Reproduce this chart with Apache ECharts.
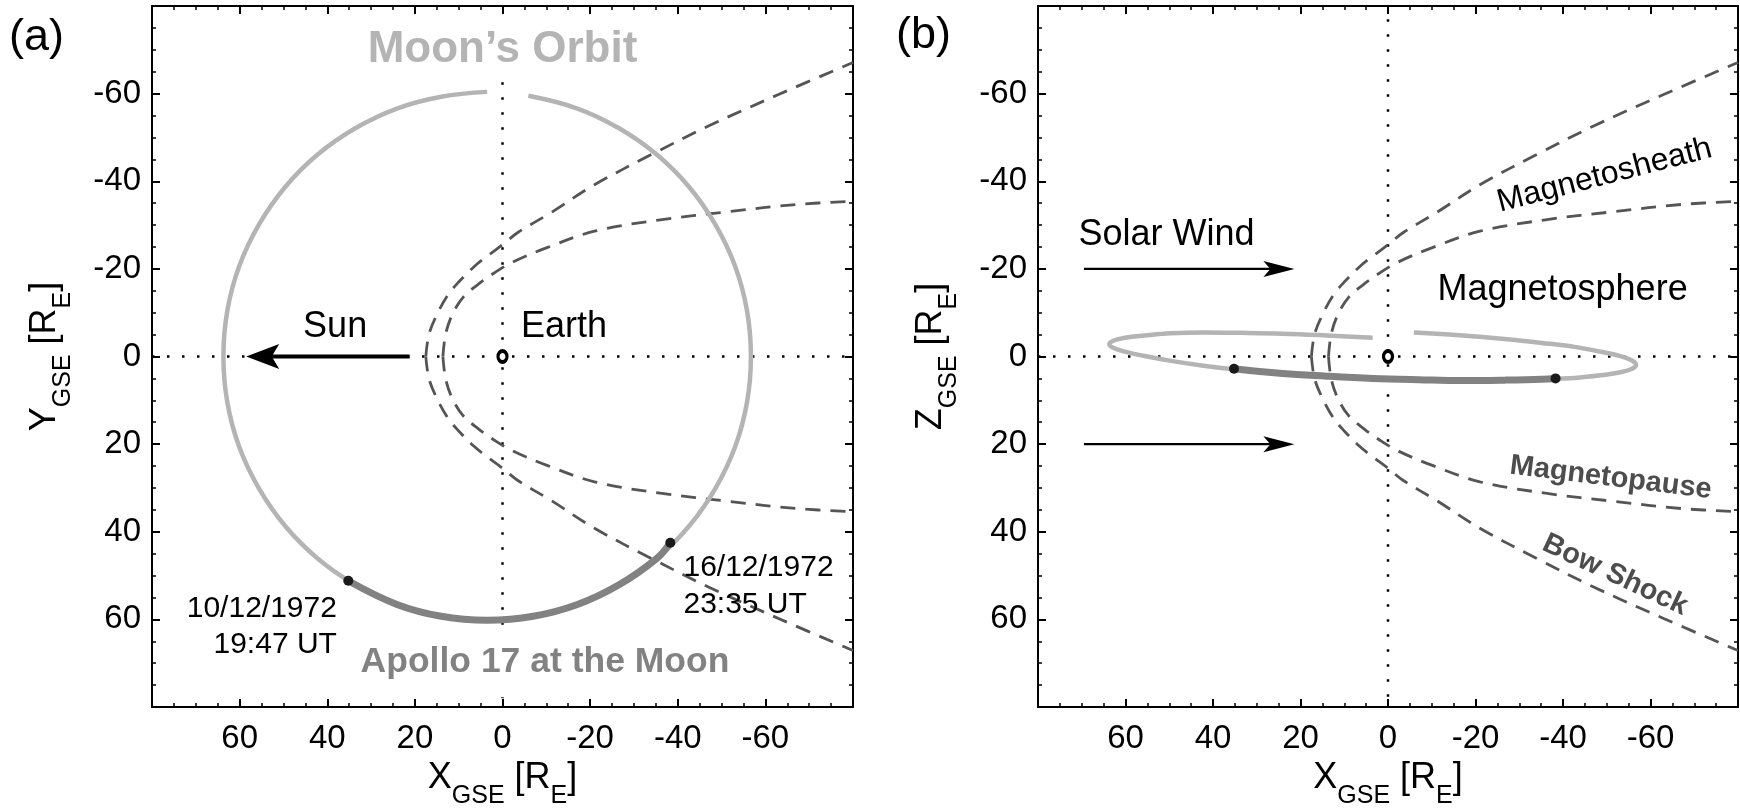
<!DOCTYPE html>
<html><head><meta charset="utf-8">
<script src="https://cdn.jsdelivr.net/npm/echarts@6/dist/echarts.min.js"></script>
<style>html,body{margin:0;padding:0;background:#fff}#c{width:1740px;height:809px}</style>
</head><body><div id="c"></div>
<script>
// ---------- axis ----------
const axisMin = -80, axisMax = 80, tickStep = 20;

// ---------- magnetopause ----------
const mpX      = [13.6, 13.0, 11.5, 9.0, 5.5, 2.0, -2.2, -10.0, -21.0, -36.0, -52.0, -67.0, -80.0];
const mpYUpper = [0, -5, -9.5, -13.5, -16.5, -19.0, -21.5, -24.8, -28.6, -31.2, -33.1, -34.7, -35.4];
const mpYLower = [0, 5, 9.5, 13.5, 16.5, 19.0, 21.5, 24.8, 28.6, 31.2, 33.1, 34.7, 35.4];

// ---------- bow shock ----------
const bsX      = [17.5, 16.8, 15.0, 12.5, 10.0, 6.5, 3.5, 0, -3.5, -11.0, -21.0, -34.0, -47.0, -63.0, -80.0];
const bsYUpper = [0, -5, -9.5, -14.0, -17.0, -20.5, -22.9, -25.5, -28.3, -32.8, -39.2, -46.1, -52.6, -59.8, -67.1];
const bsYLower = [0, 5, 9.5, 14.0, 17.0, 20.5, 22.9, 25.5, 28.3, 32.8, 39.2, 46.1, 52.6, 59.8, 67.1];

// ---------- Moon's orbit ----------
const orbitX  = [-5.9,-17.1,-26.6,-35.2,-42.6,-48.6,-53.1,-55.8,-56.7,-55.8,-53.1,-48.6,-42.6,-35.2,-26.6,-17.1,-7.0,3.5,14.0,24.1,33.6,42.2,49.6,55.6,60.1,62.8,63.7,62.8,60.1,55.6,49.6,42.2,33.6,24.1,14.0,3.5];
const orbitY  = [-59.5,-56.6,-52.1,-46.1,-38.7,-30.1,-20.6,-10.5,0,10.5,20.6,30.1,38.7,46.1,52.1,56.6,59.3,60.2,59.3,56.6,52.1,46.1,38.7,30.1,20.6,10.5,0,-10.5,-20.6,-30.1,-38.7,-46.1,-52.1,-56.6,-59.3,-60.4];
const orbitZ  = [-5.5,-4.8,-4.0,-3.1,-2.2,-1.1,-0.1,0.9,1.9,2.8,3.6,4.3,4.9,5.2,5.4,5.5,5.3,5.0,4.5,3.9,3.1,2.1,1.0,-0.1,-1.1,-2.0,-2.8,-3.6,-4.3,-4.8,-5.3,-5.5,-5.4,-5.2,-4.8,-4.3];

// ---------- Apollo 17 at the Moon ----------
const apolloX = [-38.3, -35.2, -26.6, -17.1, -7.0, 3.5, 14.0, 24.1, 35.2];
const apolloY = [42.5, 46.1, 52.1, 56.6, 59.3, 60.2, 59.3, 56.6, 51.2];
const apolloZ = [5.0, 5.2, 5.4, 5.5, 5.3, 5.0, 4.5, 3.9, 2.8];
const apolloStartEnd = [[35.2, 51.2, 2.8], [-38.3, 42.5, 5.0]]; // x, y, z

// ---------- reference lines & arrows ----------
const earth = [0, 0];
const hDotted = [[80, 0], [-80, 0]];
const vDottedA = [[0, -62.6], [0, 78]];
const vDottedB = [[0, -77], [0, 78]];
const sunArrow = [[21.2, 0], [58.5, 0]];        // tail, tip
const windArrows = [[[69.5, -20], [21.4, -20]], [[69.5, 20], [21.4, 20]]];

const FONT = 'Liberation Sans, Arial, Helvetica, sans-serif';
const C_DASH = '#555555', C_ORBIT = '#b4b4b4', C_APOLLO = '#828282';

function zip(xs, ys) { return xs.map((x, i) => [x, ys[i]]); }

function axisBase(extra) {
  return Object.assign({
    type: 'value', min: axisMin, max: axisMax, interval: tickStep, inverse: true,
    axisLine: { show: true, onZero: false, lineStyle: { color: '#000', width: 2 } },
    axisTick: { show: true, inside: true, length: 8, lineStyle: { color: '#000', width: 2 } },
    minorTick: { show: true, splitNumber: 4, length: 4, lineStyle: { color: '#000', width: 1.5 } },
    splitLine: { show: false }, minorSplitLine: { show: false }
  }, extra);
}
const tickFmt = v => (v === axisMin || v === axisMax) ? '' : String(v);
const labelStyle = { show: true, fontSize: 33, color: '#000', fontFamily: FONT, formatter: tickFmt };
const nameRich = {
  m: { fontSize: 36, color: '#000', fontFamily: FONT, verticalAlign: 'top', padding: [0, 0, 13, 0] },
  s: { fontSize: 25, color: '#000', fontFamily: FONT, verticalAlign: 'bottom', lineHeight: 25 }
};
function axisName(letter) { return '{m|' + letter + '}{s|GSE}{m| [R}{s|E}{m|]}'; }

const xAxes = [], yAxes = [];
[0, 1].forEach(g => {
  xAxes.push(axisBase({ gridIndex: g, position: 'bottom', axisLabel: Object.assign({ margin: 15 }, labelStyle),
    name: axisName('X'), nameLocation: 'middle', nameGap: 52, nameTextStyle: { rich: nameRich } }));
  xAxes.push(axisBase({ gridIndex: g, position: 'top', axisLabel: { show: false } }));
  yAxes.push(axisBase({ gridIndex: g, position: 'left', axisLabel: Object.assign({ margin: 11 }, labelStyle),
    name: axisName(g === 0 ? 'Y' : 'Z'), nameLocation: 'middle', nameGap: 76, nameTextStyle: { rich: nameRich } }));
  yAxes.push(axisBase({ gridIndex: g, position: 'right', axisLabel: { show: false } }));
});

function lineSeries(ai, data, style, extra) {
  return Object.assign({
    type: 'line', xAxisIndex: ai, yAxisIndex: ai, data: data, symbol: 'none', showSymbol: false,
    lineStyle: style, silent: true, animation: false
  }, extra || {});
}
const dottedStyle = { color: '#000', width: 2.5, type: [2.5, 12.5], cap: 'butt' };
const dashStyle = { color: C_DASH, width: 2.8, type: [15, 10] };

const HEAD_LEFT = 'path://M0,12 L40,0 L31,12 L40,24 Z';
const HEAD_RIGHT = 'path://M40,12 L0,0 L9,12 L0,24 Z';

function textItem(pos, text, style) {
  return { value: pos, label: Object.assign({ show: true, position: 'inside', formatter: text, color: '#000',
    fontFamily: FONT, fontSize: 36, align: 'center', verticalAlign: 'middle', textBorderWidth: 0, opacity: 1 }, style) };
}
function textSeries(ai, items) {
  return { type: 'scatter', xAxisIndex: ai, yAxisIndex: ai, symbolSize: 1, itemStyle: { color: 'rgba(0,0,0,0)', opacity: 1 },
    data: items, silent: true, animation: false, z: 20 };
}

function panelSeries(ai, orbitYs, apolloYs, endIdx, vDotted) {
  const s = [];
  s.push(lineSeries(ai, hDotted, dottedStyle, { z: 1 }));
  s.push(lineSeries(ai, vDotted, dottedStyle, { z: 1 }));
  s.push(lineSeries(ai, zip(mpX, mpYUpper), dashStyle, { smooth: 0.35, z: 2 }));
  s.push(lineSeries(ai, zip(mpX, mpYLower), dashStyle, { smooth: 0.35, z: 2 }));
  s.push(lineSeries(ai, zip(bsX, bsYUpper), dashStyle, { smooth: 0.35, z: 2 }));
  s.push(lineSeries(ai, zip(bsX, bsYLower), dashStyle, { smooth: 0.35, z: 2 }));
  s.push(lineSeries(ai, zip(orbitX, orbitYs), { color: C_ORBIT, width: 4.5 }, { smooth: 0.4, z: 3 }));
  s.push(lineSeries(ai, zip(apolloX, apolloYs), { color: C_APOLLO, width: 7 }, { smooth: 0.4, z: 4 }));
  s.push({ type: 'scatter', xAxisIndex: ai, yAxisIndex: ai, symbolSize: 10, itemStyle: { color: '#1a1a1a', opacity: 1 },
    data: apolloStartEnd.map(p => [p[0], p[endIdx]]), silent: true, animation: false, z: 5 });
  s.push({ type: 'scatter', xAxisIndex: ai, yAxisIndex: ai, symbol: 'circle', symbolSize: [9, 11],
    itemStyle: { color: '#fff', borderColor: '#000', borderWidth: 3.5, opacity: 1 }, data: [earth], silent: true, animation: false, z: 6 });
  return s;
}

const series = [];
// ----- panel (a) -----
panelSeries(0, orbitY, apolloY, 1, vDottedA).forEach(s => series.push(s));
series.push(lineSeries(0, [sunArrow[0], [sunArrow[1][0] - 4, 0]], { color: '#000', width: 4 }, { z: 7 }));
series.push({ type: 'scatter', xAxisIndex: 0, yAxisIndex: 0, symbol: HEAD_LEFT, symbolSize: [33, 25], symbolOffset: ['50%', 0],
  itemStyle: { color: '#000', opacity: 1 }, data: [sunArrow[1]], silent: true, animation: false, z: 8 });
series.push(textSeries(0, [
  textItem([0, -69.9], 'Moon’s Orbit', { fontSize: 44, fontWeight: 'bold', color: C_ORBIT }),
  textItem([-9.7, 69.8], 'Apollo 17 at the Moon', { fontSize: 35.5, fontWeight: 'bold', color: C_APOLLO,
    backgroundColor: '#fff', padding: [12, 4, 10, 4] }),
  textItem([38.2, -6.8], 'Sun', {}),
  textItem([-4.2, -6.8], 'Earth', { align: 'left' }),
  textItem([37.8, 61.6], '10/12/1972\n19:47 UT', { align: 'right', fontSize: 30, lineHeight: 36 }),
  textItem([-41.3, 52.5], '16/12/1972\n23:35 UT', { align: 'left', fontSize: 30, lineHeight: 37 })
]));
// ----- panel (b) -----
panelSeries(2, orbitZ, apolloZ, 2, vDottedB).forEach(s => series.push(s));
windArrows.forEach(a => {
  series.push(lineSeries(2, [a[0], [a[1][0] + 3, a[1][1]]], { color: '#000', width: 2.2 }, { z: 7 }));
  series.push({ type: 'scatter', xAxisIndex: 2, yAxisIndex: 2, symbol: HEAD_RIGHT, symbolSize: [31, 16], symbolOffset: ['-50%', 0],
    itemStyle: { color: '#000', opacity: 1 }, data: [a[1]], silent: true, animation: false, z: 8 });
});
series.push(textSeries(2, [
  textItem([70.75, -27.8], 'Solar Wind', { align: 'left' }),
  textItem([-39.9, -15.2], 'Magnetosphere', {}),
  textItem([-49.5, -41.3], 'Magnetosheath', { fontSize: 32, rotate: 14.5 }),
  textItem([-50.9, 27.7], 'Magnetopause', { fontSize: 29, fontWeight: 'bold', color: '#4d4d4d', rotate: -7 }),
  textItem([-51.9, 49.9], 'Bow Shock', { fontSize: 29, fontWeight: 'bold', color: '#4d4d4d', rotate: -25 })
]));

const option = {
  animation: false,
  backgroundColor: '#fff',
  textStyle: { fontFamily: FONT },
  title: [
    { text: '(a)', left: 4, top: 10, textStyle: { fontSize: 45, fontWeight: 'normal', color: '#000', fontFamily: FONT } },
    { text: '(b)', left: 891, top: 8, textStyle: { fontSize: 45, fontWeight: 'normal', color: '#000', fontFamily: FONT } }
  ],
  grid: [
    { left: 152, top: 6, width: 701, height: 701, containLabel: false, outerBoundsMode: 'none' },
    { left: 1038, top: 6, width: 700, height: 701, containLabel: false, outerBoundsMode: 'none' }
  ],
  xAxis: xAxes,
  yAxis: yAxes,
  series: series
};
const chart = echarts.init(document.getElementById('c'), null, { renderer: 'canvas' });
chart.setOption(option);
</script></body></html>
